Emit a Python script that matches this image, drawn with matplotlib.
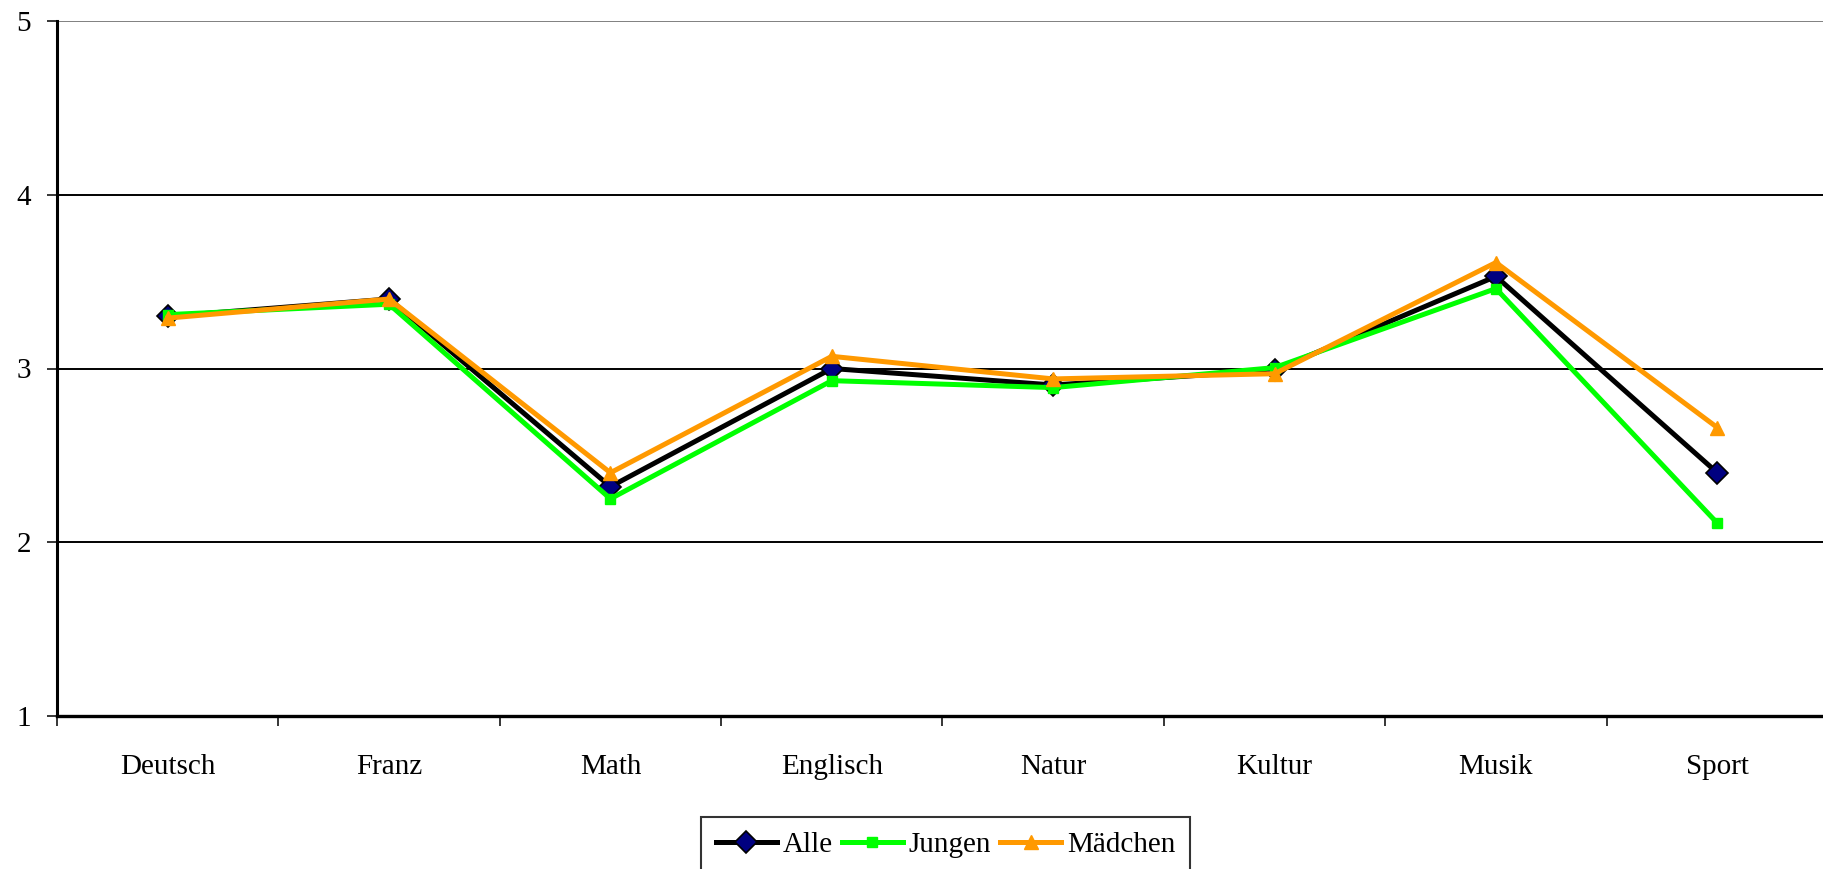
import matplotlib
matplotlib.use("Agg")
import matplotlib.pyplot as plt
import numpy as np

categories = ["Deutsch", "Franz", "Math", "Englisch", "Natur", "Kultur", "Musik", "Sport"]
alle = [3.30, 3.40, 2.32, 3.00, 2.905, 2.99, 3.53, 2.40]
jungen = [3.31, 3.37, 2.25, 2.93, 2.89, 3.005, 3.46, 2.11]
maedchen = [3.29, 3.40, 2.40, 3.07, 2.94, 2.97, 3.61, 2.66]
yticks = [1, 2, 3, 4, 5]

plt.rcParams['font.family'] = ['Liberation Serif', 'DejaVu Serif']

W, H = 1823, 869
fig = plt.figure(figsize=(W / 100, H / 100), dpi=100)
left, right, top, bottom = 57, 1828, 21, 716
ax = fig.add_axes([left / W, 1 - bottom / H, (right - left) / W, (bottom - top) / H])

x = np.arange(len(categories))
ax.plot(x, alle, color='black', lw=3.6, marker='D', ms=11.5, mfc='#000080', mec='black', mew=1.2,
        label='Alle', zorder=3, clip_on=False)
ax.plot(x, jungen, color='#00FF00', lw=3.6, marker='s', ms=7.5, mfc='#00FF00', mec='#00FF00',
        label='Jungen', zorder=4, clip_on=False)
ax.plot(x, maedchen, color='#FF9900', lw=3.6, marker='^', ms=9.5, mfc='#FF9900', mec='#FF9900',
        label='Mädchen', zorder=5, clip_on=False)

ax.set_xlim(-0.5, len(categories) - 0.5)
ax.set_ylim(1, 5)
ax.set_yticks(yticks)
ax.set_yticklabels([str(v) for v in yticks])
for v in yticks[1:-1]:
    ax.axhline(v, color='black', lw=1.4, zorder=1)
ax.axhline(5, color='#808080', lw=1.4, zorder=1)

ax.set_xticks(np.arange(len(categories) + 1) - 0.5)
ax.set_xticklabels([])
ax.set_xticks(x, minor=True)
ax.set_xticklabels(categories, minor=True)
ax.tick_params(axis='x', which='major', direction='out', length=7.5, width=1.1, color='black')
ax.tick_params(axis='x', which='minor', length=0, pad=27, labelsize=21)
ax.tick_params(axis='y', direction='out', length=7.5, width=1.1, pad=11, labelsize=21)

for s in ['top', 'right']:
    ax.spines[s].set_visible(False)
ax.spines['left'].set_linewidth(2.2)
ax.spines['bottom'].set_linewidth(2.4)

leg = fig.legend(loc='upper left', bbox_to_anchor=(701 / W, 1 - 817 / H), ncol=3, fontsize=21,
                 frameon=True, fancybox=False, shadow=False, handlelength=2.1, handletextpad=0.2,
                 columnspacing=0.3, borderpad=0.5, borderaxespad=0)
leg.get_frame().set_edgecolor('black')
leg.get_frame().set_linewidth(1.5)

fig.savefig('out.png', dpi=100)
